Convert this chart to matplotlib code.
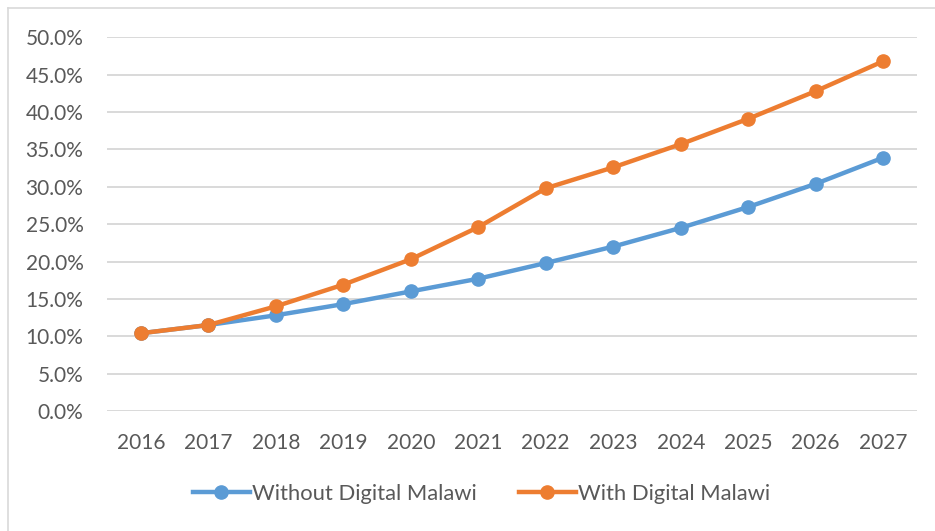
import matplotlib.pyplot as plt
from matplotlib.lines import Line2D
from matplotlib.ticker import PercentFormatter

YEARS = ['2016', '2017', '2018', '2019', '2020', '2021',
         '2022', '2023', '2024', '2025', '2026', '2027']
WITHOUT = [10.4, 11.5, 12.8, 14.3, 16.0, 17.7, 19.8, 22.0, 24.5, 27.3, 30.4, 33.9]
WITH = [10.4, 11.5, 14.0, 16.9, 20.3, 24.6, 29.8, 32.6, 35.7, 39.1, 42.8, 46.8]
LABELS = ['Without Digital Malawi', 'With Digital Malawi']
COLORS = ['#5B9BD5', '#ED7D31']
TEXT = '#595959'

plt.rcParams['font.family'] = ['Lato', 'DejaVu Sans']

W, H = 935, 531
fig = plt.figure(figsize=(W / 100, H / 100), dpi=100)
ax = fig.add_axes([107 / W, 1 - 411 / H, (917 - 107) / W, (411 - 37.3) / H])

x = list(range(len(YEARS)))
for vals, color, label in zip([WITHOUT, WITH], COLORS, LABELS):
    ax.plot(x, vals, color=color, lw=3.2, marker='o', ms=9.5, label=label,
            solid_capstyle='round', zorder=3)

ax.set_xlim(-0.5, len(YEARS) - 0.5)
ax.set_ylim(0, 50)
ax.set_yticks(range(0, 51, 5))
ax.yaxis.set_major_formatter(PercentFormatter(decimals=1))
ax.set_xticks(x)
ax.set_xticklabels(YEARS)
ax.grid(axis='y', color='#d9d9d9', lw=1.4)
ax.set_axisbelow(True)
for s in ax.spines.values():
    s.set_visible(False)
ax.tick_params(length=0, labelsize=15, colors=TEXT)
ax.tick_params(axis='y', pad=17)
ax.tick_params(axis='x', pad=16)

handles = [Line2D([], [], color=c, lw=3.2, marker='o', ms=9.5) for c in COLORS]
fig.legend(handles, LABELS, loc='center', bbox_to_anchor=(481.5 / W, 1 - 494 / H),
           ncol=2, frameon=False, fontsize=15.8, labelcolor=TEXT,
           handlelength=2.6, handletextpad=0.1, columnspacing=1.9)

# chart frame (only top and left edges visible in the crop)
fig.add_artist(Line2D([8 / W, 1], [1 - 8 / H, 1 - 8 / H], color='#d9d9d9', lw=1.2))
fig.add_artist(Line2D([8 / W, 8 / W], [0, 1 - 8 / H], color='#d9d9d9', lw=1.2))

fig.savefig('out.png', dpi=100, facecolor='white')
